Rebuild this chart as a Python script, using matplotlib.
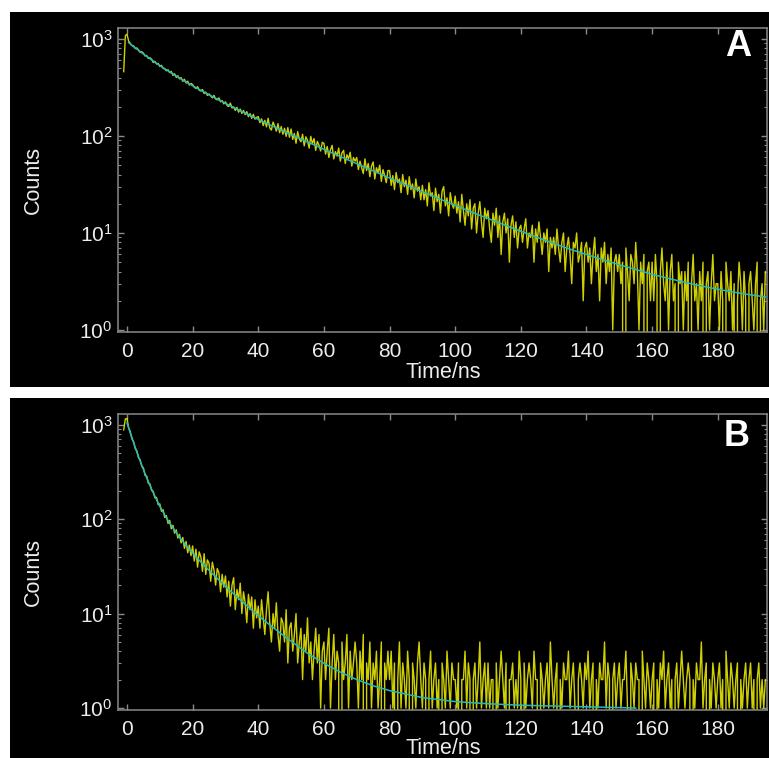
import numpy as np
import matplotlib
matplotlib.use("Agg")
import matplotlib.pyplot as plt
from matplotlib.patches import Rectangle
from matplotlib.ticker import LogLocator, FixedLocator, NullFormatter

plt.rcParams['font.family'] = ['Liberation Sans', 'DejaVu Sans']
plt.rcParams['mathtext.fontset'] = 'custom'
plt.rcParams['mathtext.rm'] = 'Liberation Sans'
plt.rcParams['mathtext.it'] = 'Liberation Sans:italic'
plt.rcParams['mathtext.bf'] = 'Liberation Sans:bold'

# ---------------- data ----------------
t_start, t_step = -1.0, 0.5          # channel time axis (ns)

counts_A = [460, 1080,
    1120, 950, 901, 851, 852, 795, 808, 771, 728, 739, 712, 668, 676, 629, 640, 618, 571, 589, 552, 560,
    520, 535, 498, 490, 470, 481, 449, 462, 421, 438, 402, 417, 388, 399, 366, 384, 351, 367, 335, 348,
    338, 318, 309, 322, 296, 291, 301, 274, 283, 262, 271, 259, 247, 262, 240, 236, 247, 225, 231, 214,
    225, 206, 201, 218, 194, 199, 183, 197, 176, 189, 171, 183, 166, 178, 158, 170, 152, 167, 149, 156,
    158, 137, 150, 128, 145, 124, 152, 121, 115, 139, 127, 112, 134, 108, 125, 104, 120, 99, 122, 97,
    118, 92, 106, 84, 111, 93, 87, 104, 79, 98, 90, 75, 99, 83, 94, 71, 88, 80, 70, 86,
    84, 65, 78, 60, 72, 80, 58, 69, 62, 75, 55, 67, 71, 52, 64, 58, 68, 49, 60, 55,
    60, 45, 55, 47, 41, 58, 44, 52, 38, 49, 54, 36, 47, 42, 50, 34, 45, 39, 33, 44,
    44, 31, 39, 28, 42, 33, 36, 26, 40, 30, 35, 25, 38, 28, 32, 23, 36, 27, 30, 22,
    31, 22, 28, 19, 33, 24, 26, 17, 29, 21, 25, 16, 27, 30, 19, 23, 15, 26, 20, 18,
    24, 16, 21, 13, 25, 17, 12, 20, 15, 22, 11, 18, 20, 10, 16, 21, 13, 9, 18, 14,
    17, 11, 8, 16, 12, 18, 9, 15, 6, 13, 16, 10, 14, 5, 12, 15, 9, 13, 7, 11,
    12, 8, 11, 14, 7, 10, 9, 12, 5, 11, 8, 13, 9, 6, 10, 8, 11, 4, 9, 7,
    9, 6, 11, 7, 5, 8, 10, 4, 7, 9, 6, 3, 8, 7, 10, 5, 6, 8, 2, 7,
    8, 5, 7, 3, 6, 9, 4, 6, 2, 7, 5, 8, 3, 6, 4, 7, 1, 5, 6, 4,
    6, 3, 5, 0, 7, 4, 2, 6, 5, 3, 8, 4, 1, 5, 3, 6, 0, 4, 5, 2,
    5, 2, 6, 3, 0, 4, 7, 3, 2, 5, 1, 4, 6, 2, 3, 0, 5, 3, 4, 1,
    4, 2, 5, 0, 3, 6, 2, 3, 1, 4, 2, 5, 0, 3, 4, 1, 3, 6, 2, 3,
    3, 1, 4, 2, 0, 5, 3, 2, 4, 1, 3, 0, 2, 5, 3, 1, 4, 2, 0, 3,
    4, 2, 1, 3, 5, 0, 2, 3, 1, 4]

counts_B = [880, 1150,
    1160, 931, 842, 711, 661, 560, 528, 447, 425, 362, 349, 291, 286, 240, 236, 201, 197, 168, 170, 142,
    145, 121, 126, 104, 109, 90, 97, 79, 86, 71, 77, 63, 69, 56, 64, 49, 58, 44, 53, 41,
    52, 36, 48, 31, 45, 40, 28, 43, 26, 37, 34, 22, 35, 29, 20, 30, 27, 17, 26, 19,
    25, 15, 22, 12, 20, 24, 11, 18, 14, 21, 10, 17, 13, 8, 16, 11, 15, 7, 14, 9,
    12, 7, 14, 9, 6, 11, 17, 8, 5, 10, 7, 13, 6, 4, 9, 8, 5, 11, 3, 7,
    8, 4, 6, 10, 3, 5, 7, 2, 6, 4, 9, 3, 5, 2, 4, 7, 3, 6, 1, 4,
    5, 2, 4, 7, 1, 3, 6, 2, 4, 3, 0, 5, 2, 3, 6, 1, 4, 2, 3, 5,
    3, 1, 4, 2, 6, 0, 3, 2, 5, 1, 3, 2, 4, 1, 2, 5, 0, 3, 2, 4,
    2, 4, 1, 3, 0, 2, 5, 1, 3, 2, 1, 4, 2, 0, 3, 2, 1, 3, 5, 2,
    1, 3, 2, 0, 2, 4, 1, 2, 3, 1, 2, 0, 3, 2, 1, 4, 2, 1, 3, 2,
    2, 1, 3, 0, 2, 2, 4, 1, 3, 2, 0, 2, 3, 1, 2, 5, 1, 2, 3, 1,
    3, 1, 2, 2, 0, 3, 1, 2, 4, 2, 1, 3, 0, 2, 2, 3, 1, 2, 1, 4,
    2, 0, 3, 1, 2, 3, 2, 1, 4, 2, 2, 0, 3, 2, 1, 2, 3, 1, 5, 2,
    1, 2, 3, 0, 2, 1, 3, 2, 2, 4, 1, 2, 3, 1, 0, 2, 3, 2, 1, 3,
    2, 4, 1, 2, 3, 0, 2, 1, 3, 2, 2, 5, 1, 3, 2, 0, 2, 3, 1, 2,
    3, 1, 2, 2, 4, 1, 0, 3, 2, 1, 3, 2, 2, 0, 4, 2, 1, 3, 2, 1,
    2, 3, 0, 2, 1, 3, 2, 4, 1, 2, 3, 1, 2, 0, 2, 3, 1, 2, 4, 2,
    1, 2, 3, 2, 0, 2, 1, 3, 2, 2, 5, 1, 2, 3, 0, 2, 1, 3, 2, 1,
    2, 3, 1, 2, 0, 4, 2, 1, 3, 2, 1, 2, 3, 0, 2, 1, 2, 3, 1, 2,
    3, 1, 2, 0, 2, 3, 1, 2, 1, 2]

fit_t_A = [0.5, 1, 2, 3, 4, 5, 6, 7, 8, 9, 10,
           12, 14, 16, 18, 20, 22, 24, 26, 28, 30, 32, 34, 36, 38, 40, 42, 44, 46, 48, 50,
           55, 60, 65, 70, 75, 80, 85, 90, 95, 100, 105, 110, 115, 120, 125, 130, 135, 140,
           145, 150, 155, 160, 165, 170, 175, 180, 185, 190, 194.5]
fit_A = [917, 889, 836, 787, 742, 700, 661.5, 625.7, 592.4, 561.4, 532.6,
         480.6, 435.3, 395.5, 360.4, 329.4, 301.8, 277.1, 254.9, 235.0, 217.0, 200.5, 185.7,
         172.1, 159.6, 148.2, 137.7, 128.1, 119.2, 110.9, 103.4,
         86.7, 72.9, 61.4, 51.75, 43.7, 36.9, 31.3, 26.6, 22.6, 19.3, 16.4, 14.1, 12.1, 10.4,
         9.0, 7.8, 6.8, 6.0, 5.3, 4.7, 4.2, 3.75, 3.4, 3.1, 2.84, 2.63, 2.45, 2.3, 2.19]

fit_t_B = [0, 1, 2, 3, 4, 5, 6, 7, 8, 9, 10, 12, 14, 16, 18, 20, 22, 25, 30, 35, 40, 45,
           50, 55, 60, 65, 70, 75, 80, 90, 100, 110, 120, 130, 140, 155]
fit_B = [1044, 818, 646, 514, 413, 335, 274, 227, 190, 161, 137, 103, 80.5, 64.4, 52.6,
         43.7, 36.7, 28.7, 19.4, 13.5, 9.5, 6.9, 5.1, 3.8, 2.97, 2.4, 2.0, 1.72, 1.53, 1.29,
         1.17, 1.11, 1.07, 1.05, 1.03, 1.0]

x_ticks = [0, 20, 40, 60, 80, 100, 120, 140, 160, 180]
panel_labels = ['A', 'B']

assert len(counts_A) == len(counts_B) == 392, (len(counts_A), len(counts_B))
assert len(fit_t_A) == len(fit_A) and len(fit_t_B) == len(fit_B)
t = t_start + t_step * np.arange(len(counts_A))

# ---------------- figure ----------------
W, H = 769, 758
fig = plt.figure(figsize=(W / 100, H / 100), dpi=100, facecolor='white')

def fx(px):
    return px / W

def fy(py):
    return 1 - py / H

# black panel backgrounds
fig.add_artist(Rectangle((fx(10), fy(387)), fx(759), 375 / H, transform=fig.transFigure,
                         facecolor='black', edgecolor='none', zorder=0))
fig.add_artist(Rectangle((fx(10), fy(758)), fx(759), 360 / H, transform=fig.transFigure,
                         facecolor='black', edgecolor='none', zorder=0))

spine_c = '#8a8a8a'
text_c = '#ececec'
yellow = '#e8e800'
cyan = '#25b8c4'

panels = [
    dict(top=28, bottom=332, ylim=(10 ** -0.021, 10 ** 3.113), counts=counts_A,
         ft=fit_t_A, fv=fit_A, label=panel_labels[0], lab_xy=(738, 47), ylab_y=180, xlab_y=373),
    dict(top=414, bottom=710, ylim=(10 ** -0.021, 10 ** 3.113), counts=counts_B,
         ft=fit_t_B, fv=fit_B, label=panel_labels[1], lab_xy=(737, 437), ylab_y=572, xlab_y=748),
]

left_px, right_px = 118, 767
for p in panels:
    ax = fig.add_axes([fx(left_px), fy(p['bottom']), (right_px - left_px) / W,
                       (p['bottom'] - p['top']) / H])
    ax.set_facecolor('none')
    ax.set_yscale('log')
    ax.plot(t, p['counts'], color=yellow, lw=1.0, alpha=0.9, zorder=2)
    ax.plot(p['ft'], p['fv'], color=cyan, lw=1.1, zorder=3)
    ax.set_xlim(-2.74, 195.0)
    ax.set_ylim(*p['ylim'])
    for s in ax.spines.values():
        s.set_color(spine_c)
        s.set_linewidth(1.1)
    ax.xaxis.set_major_locator(FixedLocator(x_ticks))
    ax.yaxis.set_major_locator(LogLocator(base=10, numticks=10))
    ax.yaxis.set_minor_locator(LogLocator(base=10, subs=np.arange(2, 10), numticks=10))
    ax.yaxis.set_minor_formatter(NullFormatter())
    ax.tick_params(axis='both', which='both', direction='in', color=spine_c,
                   labelcolor=text_c, labelsize=15, top=True, right=True)
    ax.tick_params(axis='both', which='major', length=4, width=1)
    ax.tick_params(axis='y', which='minor', length=2.5, width=0.8)
    ax.tick_params(axis='x', which='major', pad=7)
    ax.tick_params(axis='y', which='major', pad=4)
    fig.text(fx(443), fy(p['xlab_y']), 'Time/ns', color=text_c, fontsize=15.5,
             ha='center', va='center')
    fig.text(fx(33), fy(p['ylab_y']), 'Counts', color=text_c, fontsize=15.5,
             ha='center', va='center', rotation=90)
    fig.text(fx(p['lab_xy'][0]), fy(p['lab_xy'][1]), p['label'], color='white',
             fontsize=26, fontweight='bold', ha='center', va='center')

fig.savefig('out.png', dpi=100, facecolor='white')
